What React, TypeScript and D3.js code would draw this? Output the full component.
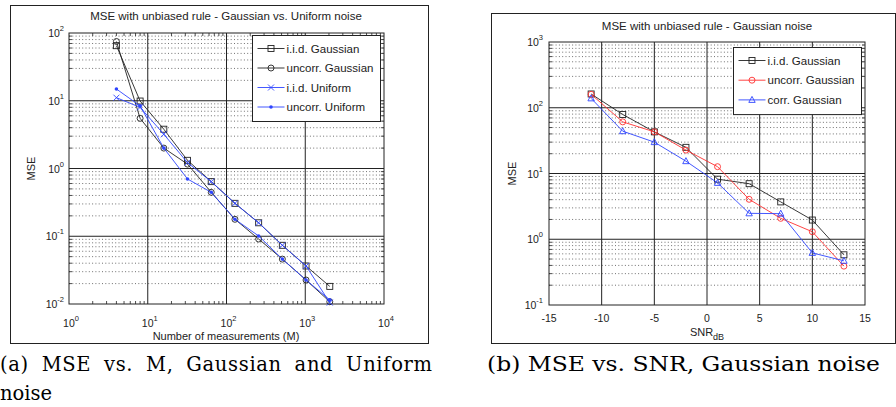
import React from "react";
import { scaleLog, scaleLinear, line } from "d3";

// ---- panel (a): MSE vs number of measurements ----
const measurements = [4, 8, 16, 32, 64, 128, 256, 512, 1024, 2048];
const iidGaussianA = [65, 9.9, 3.8, 1.32, 0.64, 0.306, 0.158, 0.0735, 0.0364, 0.0182];
const uncorrGaussianA = [75, 5.5, 2.0, 1.16, 0.445, 0.178, 0.091, 0.046, 0.0226, 0.0108];
const iidUniformA = [11.1, 8.0, 3.2, 1.22, 0.64, 0.306, 0.158, 0.0735, 0.0364, 0.0105];
const uncorrUniformA = [14.9, 8.4, 2.0, 0.7, 0.445, 0.178, 0.101, 0.046, 0.0226, 0.0115];
const xDecadesA = [0, 1, 2, 3, 4];
const yDecadesA = [-2, -1, 0, 1, 2];

// ---- panel (b): MSE vs SNR ----
const snrDb = [-11, -8, -5, -2, 1, 4, 7, 10, 13];
const iidGaussianB = [162, 79, 43, 25, 8.2, 7.0, 3.7, 1.96, 0.58];
const uncorrGaussianB = [160, 61, 43, 22.7, 12.7, 4.05, 2.08, 1.3, 0.39];
const corrGaussianB = [139, 44, 30, 15.4, 7.2, 2.48, 2.45, 0.62, 0.47];
const snrTicks = [-15, -10, -5, 0, 5, 10, 15];
const yDecadesB = [-1, 0, 1, 2, 3];

const FONT = "'Liberation Sans', Arial, sans-serif";
const BLUE = "#2f45ff";
const RED = "#ff3030";
const DARK = "#222";

type Marker = "square" | "circle" | "x" | "dot" | "triangle";

function MarkerShape({ kind, x, y, color }: { kind: Marker; x: number; y: number; color: string }) {
  if (kind === "square")
    return <rect x={x - 3} y={y - 3} width={6} height={6} fill="none" stroke={color} strokeWidth={0.9} />;
  if (kind === "circle") return <circle cx={x} cy={y} r={3} fill="none" stroke={color} strokeWidth={0.9} />;
  if (kind === "dot") return <circle cx={x} cy={y} r={1.8} fill={color} stroke="none" />;
  if (kind === "x")
    return (
      <path d={`M${x - 3},${y - 3}L${x + 3},${y + 3}M${x - 3},${y + 3}L${x + 3},${y - 3}`} stroke={color} strokeWidth={0.9} />
    );
  return <path d={`M${x},${y - 3.5}L${x + 3.2},${y + 2.5}L${x - 3.2},${y + 2.5}Z`} fill="none" stroke={color} strokeWidth={0.9} />;
}

// minor values for log decades
function minors(decades: number[]) {
  const out: number[] = [];
  decades.slice(0, -1).forEach((e) => {
    for (let k = 2; k <= 9; k++) out.push(k * Math.pow(10, e));
  });
  return out;
}

function Pow10({ x, y, e, anchor }: { x: number; y: number; e: number; anchor: string }) {
  return (
    <text x={x} y={y} textAnchor={anchor} fontSize={10.5} fill={DARK} fontFamily={FONT}>
      10
      <tspan dy={-6} fontSize={7.5}>
        {e}
      </tspan>
    </text>
  );
}

type Series = { name: string; values: number[]; color: string; marker: Marker };

function Legend({ x, y, w, rowH, series }: { x: number; y: number; w: number; rowH: number; series: Series[] }) {
  return (
    <g>
      <rect x={x} y={y} width={w} height={rowH * series.length + 8} fill="white" stroke={DARK} strokeWidth={1} />
      {series.map((s, i) => {
        const cy = y + 13 + i * rowH;
        return (
          <g key={s.name}>
            <line x1={x + 5} x2={x + 32} y1={cy} y2={cy} stroke={s.color} strokeWidth={0.9} />
            <MarkerShape kind={s.marker} x={x + 18.5} y={cy} color={s.color} />
            <text x={x + 34} y={cy + 4} fontSize={11.5} fontFamily={FONT} fill={DARK}>
              {s.name}
            </text>
          </g>
        );
      })}
    </g>
  );
}

function PanelA() {
  const x = scaleLog().domain([1, 1e4]).range([69, 384]);
  const y = scaleLog().domain([1e-2, 1e2]).range([304, 33]);
  const series: Series[] = [
    { name: "i.i.d. Gaussian", values: iidGaussianA, color: DARK, marker: "square" },
    { name: "uncorr. Gaussian", values: uncorrGaussianA, color: DARK, marker: "circle" },
    { name: "i.i.d. Uniform", values: iidUniformA, color: BLUE, marker: "x" },
    { name: "uncorr. Uniform", values: uncorrUniformA, color: BLUE, marker: "dot" },
  ];
  const path = line<number>()
    .x((_, i) => x(measurements[i]))
    .y((d) => y(d));
  const [x0, x1] = x.range();
  const [y0, y1] = y.range();
  return (
    <g>
      <rect x={10.5} y={5.5} width={418} height={338} fill="white" stroke={DARK} strokeWidth={1} />
      {minors(yDecadesA).map((v) => (
        <line key={"gy" + v} x1={x0} x2={x1} y1={y(v)} y2={y(v)} stroke="#333" strokeWidth={0.7} strokeDasharray="1 2.3" />
      ))}
      {yDecadesA.slice(1, -1).map((e) => (
        <line key={"My" + e} x1={x0} x2={x1} y1={y(10 ** e)} y2={y(10 ** e)} stroke={DARK} strokeWidth={1} />
      ))}
      {xDecadesA.slice(1, -1).map((e) => (
        <line key={"Mx" + e} x1={x(10 ** e)} x2={x(10 ** e)} y1={y0} y2={y1} stroke={DARK} strokeWidth={1} />
      ))}
      {minors(xDecadesA).map((v) => (
        <g key={"tx" + v}>
          <line x1={x(v)} x2={x(v)} y1={y0} y2={y0 - 3} stroke={DARK} strokeWidth={0.8} />
          <line x1={x(v)} x2={x(v)} y1={y1} y2={y1 + 3} stroke={DARK} strokeWidth={0.8} />
        </g>
      ))}
      {minors(yDecadesA).map((v) => (
        <g key={"ty" + v}>
          <line x1={x0} x2={x0 + 3} y1={y(v)} y2={y(v)} stroke={DARK} strokeWidth={0.8} />
          <line x1={x1} x2={x1 - 3} y1={y(v)} y2={y(v)} stroke={DARK} strokeWidth={0.8} />
        </g>
      ))}
      <rect x={x0} y={y1} width={x1 - x0} height={y0 - y1} fill="none" stroke={DARK} strokeWidth={1} />
      {series.map((s) => (
        <g key={s.name}>
          <path d={path(s.values) || ""} fill="none" stroke={s.color} strokeWidth={0.9} />
          {s.values.map((v, i) => (
            <MarkerShape key={i} kind={s.marker} x={x(measurements[i])} y={y(v)} color={s.color} />
          ))}
        </g>
      ))}
      {xDecadesA.map((e) => (
        <Pow10 key={"lx" + e} x={x(10 ** e) + 2} y={327} e={e} anchor="middle" />
      ))}
      {yDecadesA.map((e) => (
        <Pow10 key={"ly" + e} x={x0 - 5} y={y(10 ** e) + 4} e={e} anchor="end" />
      ))}
      <text x={226} y={20} textAnchor="middle" fontSize={11.5} fontFamily={FONT} fill={DARK}>
        MSE with unbiased rule - Gaussian vs. Uniform noise
      </text>
      <text x={226} y={340} textAnchor="middle" fontSize={11} fontFamily={FONT} fill={DARK}>
        Number of measurements (M)
      </text>
      <text transform={`translate(35,${(y0 + y1) / 2}) rotate(-90)`} textAnchor="middle" fontSize={11} fontFamily={FONT} fill={DARK}>
        MSE
      </text>
      <Legend x={252.5} y={35.5} w={128} rowH={19.5} series={series} />
    </g>
  );
}

function PanelB() {
  const x = scaleLinear().domain([-15, 15]).range([549, 865]);
  const y = scaleLog().domain([1e-1, 1e3]).range([305, 42]);
  const series: Series[] = [
    { name: "i.i.d. Gaussian", values: iidGaussianB, color: DARK, marker: "square" },
    { name: "uncorr. Gaussian", values: uncorrGaussianB, color: RED, marker: "circle" },
    { name: "corr. Gaussian", values: corrGaussianB, color: BLUE, marker: "triangle" },
  ];
  const path = line<number>()
    .x((_, i) => x(snrDb[i]))
    .y((d) => y(d));
  const [x0, x1] = x.range();
  const [y0, y1] = y.range();
  return (
    <g>
      <rect x={491.5} y={13.5} width={404} height={330} fill="white" stroke={DARK} strokeWidth={1} />
      {minors(yDecadesB).map((v) => (
        <line key={"gy" + v} x1={x0} x2={x1} y1={y(v)} y2={y(v)} stroke="#333" strokeWidth={0.7} strokeDasharray="1 2.3" />
      ))}
      {yDecadesB.slice(1, -1).map((e) => (
        <line key={"My" + e} x1={x0} x2={x1} y1={y(10 ** e)} y2={y(10 ** e)} stroke={DARK} strokeWidth={1} />
      ))}
      {snrTicks.slice(1, -1).map((t) => (
        <line key={"Mx" + t} x1={x(t)} x2={x(t)} y1={y0} y2={y1} stroke={DARK} strokeWidth={1} />
      ))}
      {minors(yDecadesB).map((v) => (
        <g key={"ty" + v}>
          <line x1={x0} x2={x0 + 3} y1={y(v)} y2={y(v)} stroke={DARK} strokeWidth={0.8} />
          <line x1={x1} x2={x1 - 3} y1={y(v)} y2={y(v)} stroke={DARK} strokeWidth={0.8} />
        </g>
      ))}
      <rect x={x0} y={y1} width={x1 - x0} height={y0 - y1} fill="none" stroke={DARK} strokeWidth={1} />
      {series.map((s) => (
        <g key={s.name}>
          <path d={path(s.values) || ""} fill="none" stroke={s.color} strokeWidth={0.9} />
          {s.values.map((v, i) => (
            <MarkerShape key={i} kind={s.marker} x={x(snrDb[i])} y={y(v)} color={s.color} />
          ))}
        </g>
      ))}
      {snrTicks.map((t) => (
        <text key={"lx" + t} x={x(t)} y={322} textAnchor="middle" fontSize={10.5} fontFamily={FONT} fill={DARK}>
          {t}
        </text>
      ))}
      {yDecadesB.map((e) => (
        <Pow10 key={"ly" + e} x={x0 - 6} y={y(10 ** e) + 4} e={e} anchor="end" />
      ))}
      <text x={707} y={30} textAnchor="middle" fontSize={11.5} fontFamily={FONT} fill={DARK}>
        MSE with unbiased rule - Gaussian noise
      </text>
      <text x={707} y={336} textAnchor="middle" fontSize={11} fontFamily={FONT} fill={DARK}>
        SNR
        <tspan dy={4} fontSize={9}>
          dB
        </tspan>
      </text>
      <text transform={`translate(516,${(y0 + y1) / 2}) rotate(-90)`} textAnchor="middle" fontSize={11} fontFamily={FONT} fill={DARK}>
        MSE
      </text>
      <Legend x={733.5} y={47.5} w={128} rowH={19.7} series={series} />
    </g>
  );
}

export default function App() {
  const serif = "'DejaVu Serif', serif";
  return (
    <svg width={896} height={407} style={{ position: "absolute", left: 0, top: 0, background: "white" }}>
      <PanelA />
      <PanelB />
      <text x={0} y={371} fontSize={19.5} fontFamily={serif} wordSpacing={6} textLength={432} lengthAdjust="spacing" fill="#000">
        (a) MSE vs. M, Gaussian and Uniform
      </text>
      <text x={0} y={400} fontSize={19.5} fontFamily={serif} fill="#000">
        noise
      </text>
      <text x={487} y={371} fontSize={19.5} fontFamily={serif} textLength={393} lengthAdjust="spacingAndGlyphs" fill="#000">
        (b) MSE vs. SNR, Gaussian noise
      </text>
    </svg>
  );
}
